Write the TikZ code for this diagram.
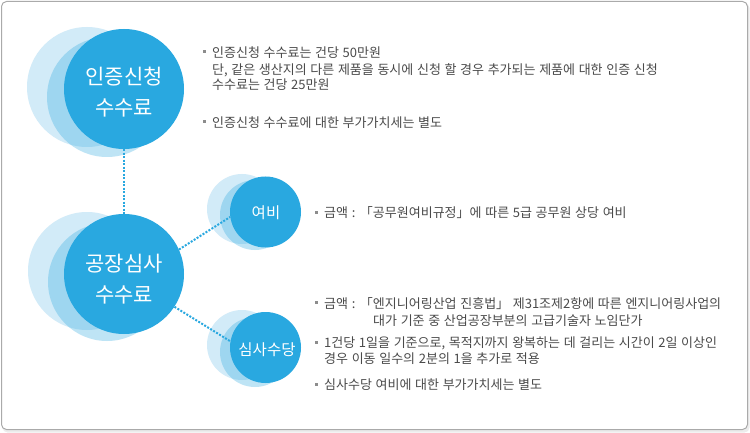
\documentclass[tikz,border=0pt]{standalone}
\usepackage{fontspec}
\setmainfont{Noto Sans CJK KR}
\definecolor{cmain}{HTML}{29A8E0}
\definecolor{clight}{HTML}{D2EBF8}
\definecolor{ctext}{HTML}{4A4A4A}
\definecolor{cbul}{HTML}{8C8C8C}
\definecolor{cframe}{HTML}{AAAAAA}
\newcommand{\mybodyfont}{\fontsize{13}{14}\selectfont\spaceskip=0.28em\relax}
\begin{document}
\begin{tikzpicture}[x=1pt,y=-1pt,
  bigc/.style={circle, fill=cmain, minimum size=120pt, inner sep=0pt},
  smallc/.style={circle, fill=cmain, minimum size=71pt, inner sep=0pt},
  backc/.style={fill=clight},
  midc/.style={fill=cmain, fill opacity=0.3},
  bigtxt/.style={text=white, align=center, font=\fontsize{21}{31}\selectfont, inner sep=0pt},
  smalltxt/.style={text=white, font=\fontsize{15.5}{16}\selectfont, inner sep=0pt},
  conn/.style={draw=cmain, line width=2pt, dash pattern=on 2pt off 1.5pt},
  bul/.style={rectangle, fill=cbul, minimum size=3pt, inner sep=0pt},
  body/.style={anchor=base west, inner sep=0pt, text=ctext, font=\mybodyfont}
]
\useasboundingbox (0,0) rectangle (750,433);
% frame
\fill[gray!15, rounded corners=5pt] (2.5,3) rectangle (749.5,432.5);
\draw[cframe, fill=white, rounded corners=5pt, line width=1pt] (1.5,1.5) rectangle (747.5,429.5);

% circle group 1
\fill[backc] (87,87) circle[radius=60pt];
\fill[midc] (107,97) circle[radius=60pt];
\node[bigc] (c1) at (124,89) {};
\node[bigtxt] (t1) at (124,92) {인증신청\\수수료};

% circle group 2
\fill[backc] (87,271) circle[radius=59pt];
\fill[midc] (107,282) circle[radius=59pt];
\node[bigc] (c2) at (124,274) {};
\node[bigtxt] (t2) at (124,279) {공장심사\\수수료};

% small circle 1
\fill[backc] (242,209) circle[radius=35pt];
\fill[midc] (255,215) circle[radius=35pt];
\node[smallc] (s1) at (265.5,212) {};
\node[smalltxt] (u1) at (266,213) {여비};

% small circle 2
\fill[backc] (242,345) circle[radius=35pt];
\fill[midc] (255,352) circle[radius=35pt];
\node[smallc] (s2) at (265.5,347.5) {};
\node[smalltxt] (u2) at (267,350) {심사수당};

% connectors
\draw[conn] (c1.south) -- (c2.north);
\draw[conn] (c2.24) -- (s1.188);
\draw[conn] (c2.-33) -- (s2.170);

% block 1
\node[bul] (b1) at (204,52) {};
\node[body] (l1) at (212,58) {인증신청 수수료는 건당 50만원};
\node[body] (l2) at (212,74.5) {단, 같은 생산지의 다른 제품을 동시에 신청 할 경우 추가되는 제품에 대한 인증 신청};
\node[body] (l3) at (212,90) {수수료는 건당 25만원};
\node[bul] (b2) at (204,122) {};
\node[body] (l4) at (212,128) {인증신청 수수료에 대한 부가가치세는 별도};

% block 2
\node[bul] (b3) at (316,212) {};
\node[body] (l5) at (324,217) {금액 : 「공무원여비규정」에 따른 5급 공무원 상당 여비};

% block 3
\node[bul] (b4) at (316,302) {};
\node[body] (l6) at (324,308) {금액 : 「엔지니어링산업 진흥법」 제31조제2항에 따른 엔지니어링사업의};
\node[body] (l7) at (373,325) {대가 기준 중 산업공장부분의 고급기술자 노임단가};
\node[bul] (b5) at (316,342) {};
\node[body] (l8) at (324,347) {1건당 1일을 기준으로, 목적지까지 왕복하는 데 걸리는 시간이 2일 이상인};
\node[body] (l9) at (324,363) {경우 이동 일수의 2분의 1을 추가로 적용};
\node[bul] (b6) at (316,384) {};
\node[body] (l10) at (324,389) {심사수당 여비에 대한 부가가치세는 별도};
\end{tikzpicture}
\end{document}
